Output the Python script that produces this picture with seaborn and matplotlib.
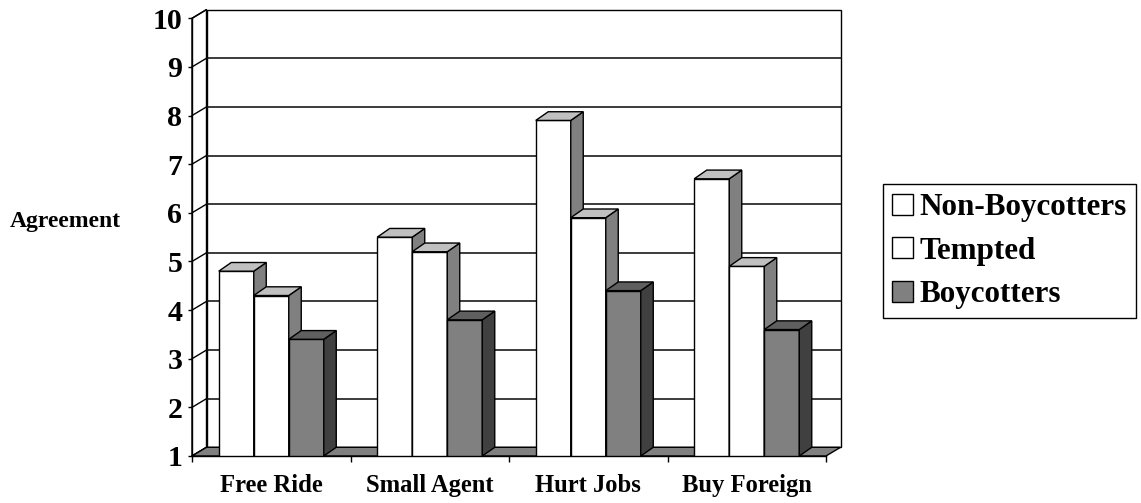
import matplotlib
matplotlib.use("Agg")
import matplotlib.pyplot as plt
from matplotlib.patches import Polygon, Rectangle, Patch
from matplotlib.ticker import FixedLocator
import pandas as pd
import seaborn as sns

# Survey agreement scores by argument and consumer group
categories = ["Free Ride", "Small Agent", "Hurt Jobs", "Buy Foreign"]
groups = ["Non-Boycotters", "Tempted", "Boycotters"]
non_boycotters = [4.8, 5.5, 7.9, 6.7]
tempted = [4.3, 5.2, 5.9, 4.9]
boycotters = [3.4, 3.8, 4.4, 3.6]
y_ticks = list(range(1, 11))

df = pd.DataFrame({
    "category": categories * len(groups),
    "group": [g for g in groups for _ in categories],
    "value": non_boycotters + tempted + boycotters,
})

front_col = {"Non-Boycotters": "#ffffff", "Tempted": "#ffffff", "Boycotters": "#808080"}
top_col = {"Non-Boycotters": "#c0c0c0", "Tempted": "#c0c0c0", "Boycotters": "#5f5f5f"}
side_col = {"Non-Boycotters": "#808080", "Tempted": "#808080", "Boycotters": "#404040"}

sns.set_theme(style="white")
plt.rcParams["font.family"] = ["Liberation Serif", "DejaVu Serif"]
plt.rcParams["font.weight"] = "bold"
for key in ("text.color", "axes.labelcolor", "xtick.color", "ytick.color"):
    plt.rcParams[key] = "black"

W, H = 1141, 503
fig = plt.figure(figsize=(W / 100, H / 100), dpi=100)
ax = fig.add_axes([192 / W, 1 - 456 / H, 634 / W, 437.7 / H])

sns.barplot(data=df, x="category", y="value", hue="group", hue_order=groups,
            palette=front_col, width=0.6625, gap=0, saturation=1,
            edgecolor="black", linewidth=1.0, ax=ax, legend=False)

ymin, ymax = y_ticks[0], y_ticks[-1]
ax.set_xlim(-0.5, len(categories) - 0.5)
ax.set_ylim(ymin, ymax)

# pixel -> data conversion for the pseudo-3D depth
sx = (len(categories)) / ax.bbox.width
sy = (ymax - ymin) / ax.bbox.height
wdx, wdy = 14.5 * sx, 8.7 * sy      # wall/floor depth
bdx, bdy = 12.5 * sx, 8.7 * sy      # bar depth

x0, x1 = -0.5, len(categories) - 0.5

# back wall with gridlines
ax.add_patch(Rectangle((x0 + wdx, ymin + wdy), x1 - x0, ymax - ymin,
                       facecolor="white", edgecolor="black", lw=1.0,
                       clip_on=False, zorder=0.5))
for v in y_ticks[1:-1]:
    ax.plot([x0 + wdx, x1 + wdx], [v + wdy, v + wdy], color="#1a1a1a",
            lw=1.2, clip_on=False, zorder=0.6)

# left wall
ax.add_patch(Polygon([(x0, ymin), (x0 + wdx, ymin + wdy), (x0 + wdx, ymax + wdy), (x0, ymax)],
                     closed=True, facecolor="white", edgecolor="black", lw=1.0,
                     clip_on=False, zorder=0.7))
for v in y_ticks:
    ax.plot([x0, x0 + wdx], [v, v + wdy], color="black", lw=1.0,
            clip_on=False, zorder=0.8)

# floor
ax.add_patch(Polygon([(x0, ymin), (x1, ymin), (x1 + wdx, ymin + wdy), (x0 + wdx, ymin + wdy)],
                     closed=True, facecolor="#808080", edgecolor="black", lw=1.0,
                     clip_on=False, zorder=1))

# side and top faces of each bar
for i, (g, cont) in enumerate(zip(groups, ax.containers)):
    z = 3 + i
    for p in cont.patches:
        p.set_zorder(z)
        bx, bw, bh = p.get_x(), p.get_width(), p.get_height()
        xr = bx + bw
        ax.add_patch(Polygon([(xr, ymin), (xr + bdx, ymin + bdy), (xr + bdx, bh + bdy), (xr, bh)],
                             closed=True, facecolor=side_col[g], edgecolor="black",
                             lw=1.0, clip_on=False, zorder=z))
        ax.add_patch(Polygon([(bx, bh), (xr, bh), (xr + bdx, bh + bdy), (bx + bdx, bh + bdy)],
                             closed=True, facecolor=top_col[g], edgecolor="black",
                             lw=1.0, clip_on=False, zorder=z))

# axes, ticks, labels
for s in ("top", "right"):
    ax.spines[s].set_visible(False)
for s in ("left", "bottom"):
    ax.spines[s].set_color("black")
    ax.spines[s].set_linewidth(1.0)
    ax.spines[s].set_zorder(10)

ax.set_yticks(y_ticks)
ax.set_yticklabels([str(t) for t in y_ticks], fontsize=21.5, fontweight="bold")
ax.tick_params(axis="y", which="major", direction="out", length=3, width=1.0,
               pad=4, left=True)
ax.set_xticks(range(len(categories)))
ax.set_xticklabels(categories, fontsize=17.7, fontweight="bold")
ax.xaxis.set_minor_locator(FixedLocator([x0 + k for k in range(len(categories) + 1)]))
ax.tick_params(axis="x", which="major", length=0, pad=13, bottom=True)
ax.tick_params(axis="x", which="minor", direction="out", length=4, width=1.0, bottom=True)
ax.set_xlabel("")
ax.set_ylabel("")

fig.text(10 / W, 1 - 221 / H, "Agreement", fontsize=17, fontweight="bold",
         ha="left", va="center")

handles = [Patch(facecolor=front_col[g], edgecolor="black", lw=1.0) for g in groups]
leg = fig.legend(handles, groups, loc="upper left",
                 bbox_to_anchor=(883 / W, 1 - 184 / H), bbox_transform=fig.transFigure,
                 prop={"family": "Liberation Serif", "weight": "bold", "size": 22.4},
                 frameon=True, fancybox=False, edgecolor="black", framealpha=1,
                 handlelength=0.66, handleheight=0.66, handletextpad=0.2,
                 labelspacing=0.46, borderpad=0.3, borderaxespad=0)
leg.get_frame().set_linewidth(1.0)

fig.savefig("out.png", dpi=100)
